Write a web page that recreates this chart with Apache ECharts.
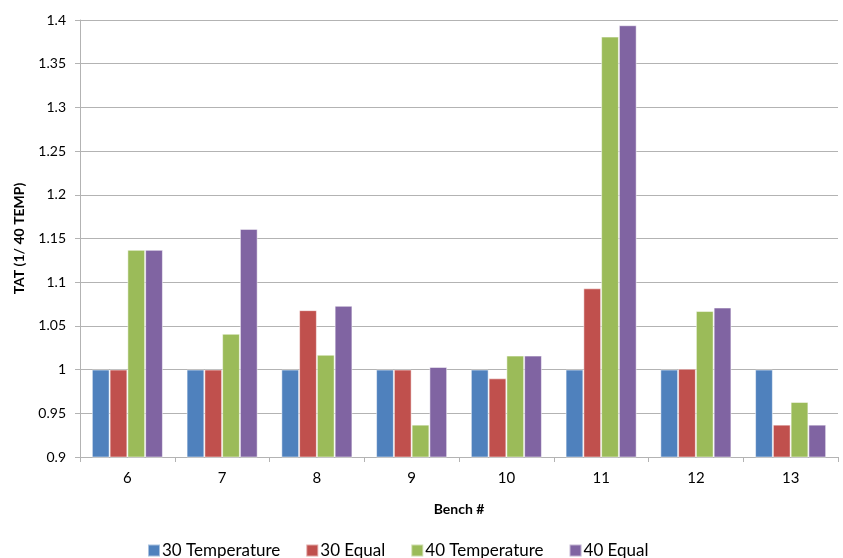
<!DOCTYPE html>
<html><head><meta charset="utf-8">
<script src="https://cdn.jsdelivr.net/npm/echarts@6/dist/echarts.min.js"></script>
<style>html,body{margin:0;padding:0;background:#fff}#c{width:843px;height:558px}</style>
</head><body><div id="c"></div>
<script>
const categories = ['6','7','8','9','10','11','12','13'];
const seriesNames = ['30 Temperature','30 Equal','40 Temperature','40 Equal'];
const temp30 = [1, 1, 1, 1, 1, 1, 1, 1];
const equal30 = [1, 1, 1.068, 1, 0.99, 1.093, 1.001, 0.937];
const temp40 = [1.137, 1.041, 1.017, 0.937, 1.016, 1.381, 1.067, 0.963];
const equal40 = [1.137, 1.161, 1.073, 1.003, 1.016, 1.394, 1.071, 0.937];
const colors = ['#4F81BD','#C0504D','#9BBB59','#8064A2'];
const FONT = 'Lato, "Open Sans", sans-serif';
const chart = echarts.init(document.getElementById('c'));
const data = [temp30, equal30, temp40, equal40];
chart.setOption({
  animation: false,
  textStyle: {fontFamily: FONT},
  grid: {left: 80, right: 5, top: 20, bottom: 101, containLabel: false},
  legend: {
    top: 537, left: 142, itemWidth: 12, itemHeight: 12, itemGap: 25,
    icon: 'rect',
    textStyle: {fontSize: 17, color: '#000', fontFamily: FONT, padding: [0,0,0,-3]},
    data: seriesNames
  },
  xAxis: {
    type: 'category', data: categories, name: 'Bench #', nameLocation: 'middle', nameGap: 45,
    nameTextStyle: {fontWeight: 'bold', fontSize: 14, color: '#000'},
    axisLine: {lineStyle: {color: '#B3B3B3', width: 1}},
    axisTick: {show: true, length: 5, lineStyle: {color: '#B3B3B3'}},
    axisLabel: {fontSize: 15, color: '#000', margin: 14}
  },
  yAxis: {
    type: 'value', min: 0.9, max: 1.4, interval: 0.05,
    name: 'TAT (1/ 40 TEMP)', nameLocation: 'middle', nameGap: 54,
    nameTextStyle: {fontWeight: 'bold', fontSize: 14, color: '#000'},
    axisLine: {show: true, lineStyle: {color: '#B3B3B3', width: 1}},
    axisTick: {show: true, length: 5, lineStyle: {color: '#B3B3B3'}},
    axisLabel: {fontSize: 14, color: '#000', margin: 14, formatter: v => String(Math.round(v*100)/100)},
    splitLine: {lineStyle: {color: '#B3B3B3', width: 1}}
  },
  series: seriesNames.map((n, i) => ({
    name: n, type: 'bar', data: data[i], barGap: '0%', barCategoryGap: '25%',
    itemStyle: {color: colors[i], borderColor: 'rgba(255,255,255,0.5)', borderWidth: 1}
  }))
});
</script></body></html>
